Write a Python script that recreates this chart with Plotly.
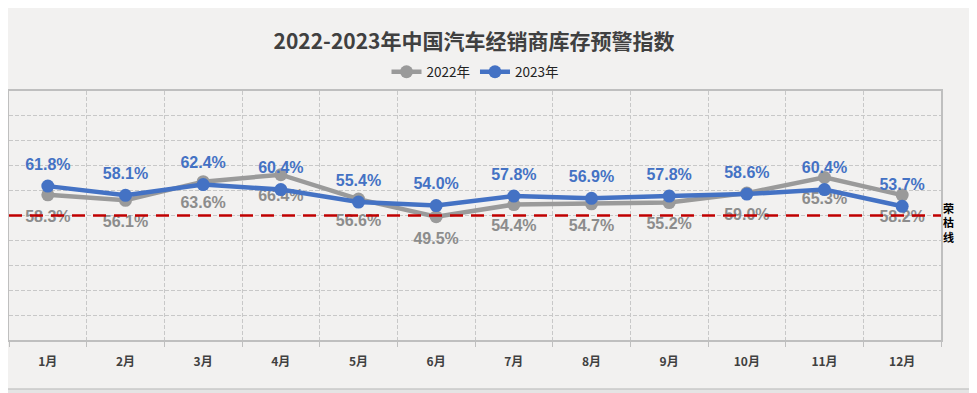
import plotly.graph_objects as go

months = ["1月", "2月", "3月", "4月", "5月", "6月", "7月", "8月", "9月", "10月", "11月", "12月"]
v2022 = [58.3, 56.1, 63.6, 66.4, 56.6, 49.5, 54.4, 54.7, 55.2, 59.0, 65.3, 58.2]
v2023 = [61.8, 58.1, 62.4, 60.4, 55.4, 54.0, 57.8, 56.9, 57.8, 58.6, 60.4, 53.7]
threshold = 50

GRAY = "#9a9a9a"
GRAY_TXT = "#8c8c8c"
BLUE = "#4472C4"
LABEL_FONT = "Liberation Sans, Arial, sans-serif"

fig = go.Figure()

fig.add_trace(go.Scatter(
    x=months, y=v2022, name="2022年", mode="lines+markers",
    line=dict(color=GRAY, width=4.5), marker=dict(color=GRAY, size=13),
    hoverinfo="skip"))
fig.add_trace(go.Scatter(
    x=months, y=v2022, mode="markers+text", showlegend=False,
    text=[f"{v:.1f}%" for v in v2022], textposition="bottom center",
    textfont=dict(family=LABEL_FONT, size=16, color=GRAY_TXT, weight="bold"),
    marker=dict(size=22, color="rgba(0,0,0,0)"), hoverinfo="skip"))
fig.add_trace(go.Scatter(
    x=months, y=v2023, name="2023年", mode="lines+markers",
    line=dict(color=BLUE, width=4.5), marker=dict(color=BLUE, size=13),
    hoverinfo="skip"))
fig.add_trace(go.Scatter(
    x=months, y=v2023, mode="markers+text", showlegend=False,
    text=[f"{v:.1f}%" for v in v2023], textposition="top center",
    textfont=dict(family=LABEL_FONT, size=16, color=BLUE, weight="bold"),
    marker=dict(size=18, color="rgba(0,0,0,0)"), hoverinfo="skip"))

# threshold line (荣枯线)
fig.add_shape(type="line", xref="paper", x0=0, x1=1, yref="y", y0=threshold, y1=threshold,
              line=dict(color="#C00000", width=2.5, dash="13px,8px"), layer="above")

# bottom strip
fig.add_shape(type="rect", xref="paper", yref="paper", x0=-0.02, x1=1.06,
              y0=-0.3, y1=-0.197, fillcolor="#e4e4e4", line=dict(width=0), layer="below")
fig.add_shape(type="line", xref="paper", yref="paper", x0=-0.02, x1=1.06,
              y0=-0.197, y1=-0.197, line=dict(color="#c8c8c8", width=1.5), layer="below")

fig.add_annotation(text="荣<br>枯<br>线", xref="paper", yref="paper", x=(948 - 1) / 932, y=0.47,
                   showarrow=False, font=dict(family="Noto Sans CJK SC", size=11, color="#000000", weight="bold"),
                   align="center")

fig.update_layout(
    width=977, height=393,
    margin=dict(l=1, r=44, t=83, b=61),
    paper_bgcolor="#f2f1f0", plot_bgcolor="rgba(0,0,0,0)",
    title=dict(text="<b>2022-2023年中国汽车经销商库存预警指数</b>", x=466/977, xanchor="center",
               y=1 - 34/393, yanchor="middle",
               font=dict(family="Noto Sans CJK SC", size=21, color="#404040")),
    legend=dict(orientation="h", x=0.5, xanchor="center", y=1 + (83 - 64) / 249, yanchor="middle",
                font=dict(family="Noto Sans CJK SC, Liberation Sans", size=13.5, color="#222222"),
                bgcolor="rgba(0,0,0,0)", traceorder="normal"),
    showlegend=True,
)
fig.update_xaxes(
    type="category", range=[-0.5, 11.5], tickson="boundaries",
    showgrid=True, gridcolor="#c8c8c8", griddash="4px,2px", gridwidth=1,
    showline=True, linecolor="#bfbfbf", linewidth=1.5, mirror=True,
    ticks="outside", ticklen=5, tickcolor="#bfbfbf", ticklabelstandoff=10,
    tickfont=dict(family="Noto Sans CJK SC, Liberation Sans", size=12, color="#404040", weight="bold"),
    zeroline=False, fixedrange=True)
fig.update_yaxes(
    range=[0, 100], dtick=10, showticklabels=False,
    showgrid=True, gridcolor="#c8c8c8", griddash="4px,2px", gridwidth=1,
    showline=True, linecolor="#bfbfbf", linewidth=1.5, mirror=True,
    zeroline=False, fixedrange=True)

fig.write_html("out.html")
